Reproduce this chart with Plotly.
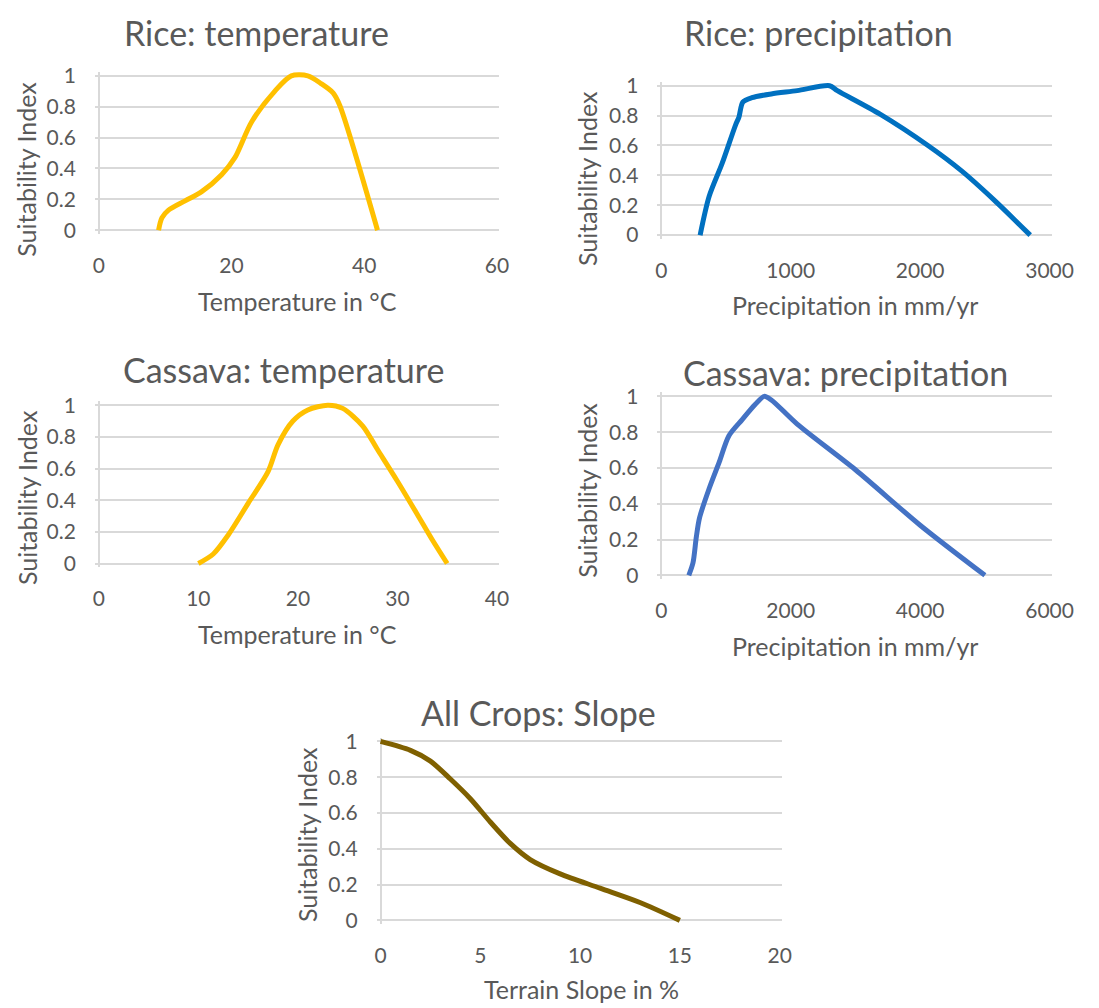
import plotly.graph_objects as go

W, H = 1099, 1008

# ---------------- data ----------------
rice_temp_x = [9, 9.5, 10.5, 13, 15.5, 18.5, 20.5, 23, 26.5, 29, 31.5, 33.5, 35.3, 36.3, 42]
rice_temp_y = [0, 0.08, 0.13, 0.19, 0.25, 0.36, 0.47, 0.70, 0.90, 1.0, 1.0, 0.95, 0.89, 0.81, 0]

rice_prec_x = [300, 370, 470, 575, 600, 630, 700, 850, 1050, 1300, 1360, 1690, 2060, 2320, 2570, 2850]
rice_prec_y = [0, 0.26, 0.48, 0.74, 0.79, 0.89, 0.92, 0.945, 0.967, 1.0, 0.967, 0.81, 0.60, 0.43, 0.236, 0]

cass_temp_x = [10, 11.5, 13, 15, 17, 18, 19.5, 21, 23, 24.5, 26.5, 28, 30, 32, 33.5, 35]
cass_temp_y = [0, 0.06, 0.18, 0.38, 0.58, 0.75, 0.9, 0.97, 1.0, 0.98, 0.87, 0.72, 0.52, 0.31, 0.15, 0]

cass_prec_x = [425, 490, 540, 590, 740, 895, 1045, 1250, 1450, 1590, 1700, 2100, 3000, 4000, 5000]
cass_prec_y = [0, 0.07, 0.21, 0.32, 0.485, 0.632, 0.78, 0.87, 0.954, 1.0, 0.98, 0.845, 0.59, 0.28, 0]

slope_x = [0, 1.5, 2.5, 3.5, 4.5, 5.5, 6.5, 7.5, 9, 11, 13, 15]
slope_y = [1.0, 0.95, 0.89, 0.79, 0.68, 0.55, 0.43, 0.34, 0.26, 0.18, 0.1, 0]

y_ticks = [0, 0.2, 0.4, 0.6, 0.8, 1]
y_ticktext = ["0", "0.2", "0.4", "0.6", "0.8", "1"]
temp60_ticks = [0, 20, 40, 60]
temp40_ticks = [0, 10, 20, 30, 40]
prec3000_ticks = [0, 1000, 2000, 3000]
prec6000_ticks = [0, 2000, 4000, 6000]
slope_ticks = [0, 5, 10, 15, 20]

titles = ["Rice: temperature", "Rice: precipitation", "Cassava: temperature",
          "Cassava: precipitation", "All Crops: Slope"]
x_titles = ["Temperature in °C", "Precipitation in mm/yr", "Temperature in °C",
            "Precipitation in mm/yr", "Terrain Slope in %"]
y_title = "Suitability Index"

# ---------------- style ----------------
FONT = "Lato"
TXT = "#595959"
GRID = "#D9D9D9"
TITLE_SIZE = 34
AX_TITLE_SIZE = 25
TICK_SIZE = 21

panels = [
    dict(x=rice_temp_x, y=rice_temp_y, color="#FFC000", ticks=temp60_ticks,
         px=(99, 506), py=(224, 67), t=(260, 23), yt=(25, 162), xt=(302, 296)),
    dict(x=rice_prec_x, y=rice_prec_y, color="#0070C0", ticks=prec3000_ticks,
         px=(674, 1071), py=(229, 77), t=(835, 23), yt=(598, 171), xt=(872, 300)),
    dict(x=cass_temp_x, y=cass_temp_y, color="#FFC000", ticks=temp40_ticks,
         px=(99, 506), py=(563, 402), t=(288, 366), yt=(25, 496), xt=(302, 635)),
    dict(x=cass_prec_x, y=cass_prec_y, color="#4472C4", ticks=prec6000_ticks,
         px=(674, 1071), py=(575, 393), t=(862, 369), yt=(598, 488), xt=(872, 647)),
    dict(x=slope_x, y=slope_y, color="#7F6000", ticks=slope_ticks,
         px=(387, 795), py=(926, 744), t=(548, 715), yt=(312, 839), xt=(592, 996)),
]

fig = go.Figure()
annotations = []
PADL, PADR, PADY = 4, 2, 4

for i, p in enumerate(panels):
    n = "" if i == 0 else str(i + 1)
    xa, ya = "x" + n, "y" + n
    xmin, xmax = p["ticks"][0], p["ticks"][-1]
    sx = (p["px"][1] - p["px"][0]) / (xmax - xmin)
    sy = (p["py"][0] - p["py"][1]) / 1.0
    xr = [xmin - PADL / sx, xmax + PADR / sx]
    yr = [0 - PADY / sy, 1 + PADY / sy]
    xd = [(p["px"][0] - PADL) / W, (p["px"][1] + PADR) / W]
    yd = [1 - (p["py"][0] + PADY) / H, 1 - (p["py"][1] - PADY) / H]

    fig.add_trace(go.Scatter(x=p["x"], y=p["y"], mode="lines",
                             line=dict(color=p["color"], width=5, shape="spline", smoothing=0.8),
                             xaxis=xa, yaxis=ya, showlegend=False, hoverinfo="skip"))

    fig.layout["xaxis" + n] = dict(
        domain=xd, range=xr, anchor=ya, showgrid=False, zeroline=True,
        zerolinecolor=GRID, zerolinewidth=1.5, showline=False,
        tickmode="array", tickvals=p["ticks"], ticktext=[str(v) for v in p["ticks"]],
        ticks="", ticklabelstandoff=17,
        tickfont=dict(family=FONT, size=TICK_SIZE, color=TXT), fixedrange=True)
    fig.layout["yaxis" + n] = dict(
        domain=yd, range=yr, anchor=xa, showgrid=True, gridcolor=GRID, gridwidth=1.5,
        zeroline=True, zerolinecolor=GRID, zerolinewidth=1.5, showline=False,
        tickmode="array", tickvals=y_ticks, ticktext=y_ticktext,
        ticks="", ticklabelstandoff=18,
        tickfont=dict(family=FONT, size=TICK_SIZE, color=TXT), fixedrange=True)

    annotations.append(dict(text=titles[i], x=p["t"][0] / W, y=1 - p["t"][1] / H,
                            xref="paper", yref="paper", showarrow=False,
                            xanchor="center", yanchor="middle",
                            font=dict(family=FONT, size=TITLE_SIZE, color=TXT)))
    annotations.append(dict(text=x_titles[i], x=p["xt"][0] / W, y=1 - p["xt"][1] / H,
                            xref="paper", yref="paper", showarrow=False,
                            xanchor="center", yanchor="middle",
                            font=dict(family=FONT, size=AX_TITLE_SIZE, color=TXT)))
    annotations.append(dict(text=y_title, x=p["yt"][0] / W, y=1 - p["yt"][1] / H,
                            xref="paper", yref="paper", showarrow=False, textangle=-90,
                            xanchor="center", yanchor="middle",
                            font=dict(family=FONT, size=AX_TITLE_SIZE, color=TXT)))

fig.update_layout(width=W, height=H, margin=dict(l=0, r=0, t=0, b=0),
                  paper_bgcolor="white", plot_bgcolor="white",
                  annotations=annotations, showlegend=False)

fig.write_html("out.html", config={"displayModeBar": False})
